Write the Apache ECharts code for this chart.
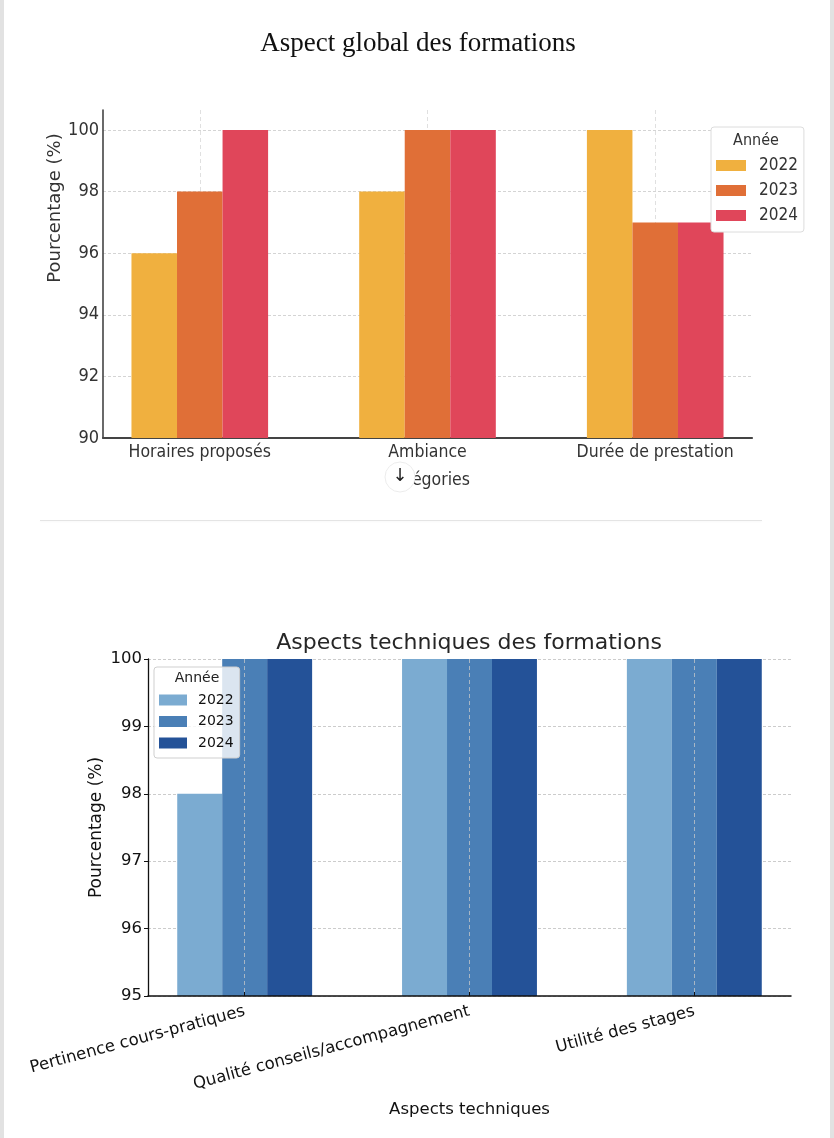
<!DOCTYPE html>
<html>
<head>
<meta charset="utf-8">
<script src="https://cdn.jsdelivr.net/npm/echarts@6/dist/echarts.min.js"></script>
<style>
html,body{margin:0;padding:0;background:#fff;width:834px;height:1138px;overflow:hidden;}
#page{position:relative;width:834px;height:1138px;background:#fff;}
#c1{position:absolute;left:0;top:0;width:834px;height:540px;}
#c2{position:absolute;left:0;top:540px;width:834px;height:598px;}
.edgeL{position:absolute;left:0;top:0;width:4px;height:1138px;background:#e2e2e2;}
.edgeR{position:absolute;right:0;top:0;width:4px;height:1138px;background:#e2e2e2;}
.sep{position:absolute;left:40px;top:520px;width:722px;height:1px;background:#e4e4e4;box-shadow:0 1px 2px rgba(0,0,0,0.04);}
</style>
</head>
<body>
<div id="page">
  <div id="c1"></div>
  <div id="c2"></div>
  <div class="sep"></div>
  <div class="edgeL"></div>
  <div class="edgeR"></div>
</div>
<script>
// ---------- Data ----------
const years = ['2022', '2023', '2024'];

const categories1 = ['Horaires proposés', 'Ambiance', 'Durée de prestation'];
const global2022 = [96, 98, 100];
const global2023 = [98, 100, 97];
const global2024 = [100, 100, 97];
const yTicks1 = [90, 92, 94, 96, 98, 100];

const categories2 = ['Pertinence cours-pratiques', 'Qualité conseils/accompagnement', 'Utilité des stages'];
const tech2022 = [98, 100, 100];
const tech2023 = [100, 100, 100];
const tech2024 = [100, 100, 100];
const yTicks2 = [95, 96, 97, 98, 99, 100];

const colors1 = ['#F0B03F', '#E06F37', '#E0465A'];
const colors2 = ['#7BABD1', '#4A7FB6', '#245298'];

const catIndex1 = categories1.map((c, i) => i);
const catIndex2 = categories2.map((c, i) => i);

function buildSeries(valuesList, colors) {
  return years.map((y, k) => ({
    name: y,
    type: 'bar',
    barWidth: '20%',
    barGap: '0%',
    itemStyle: { color: colors[k] },
    data: valuesList[k].map((v, i) => [i, v])
  }));
}

const COND = '"DejaVu Sans Condensed", "DejaVu Sans", sans-serif';
const SANS = '"DejaVu Sans", sans-serif';

// ---------- Chart 1 ----------
const chart1 = echarts.init(document.getElementById('c1'), null, { renderer: 'canvas' });
chart1.setOption({
  animation: false,
  title: {
    text: 'Aspect global des formations',
    left: 418, top: 30, textAlign: 'center', padding: 0,
    textStyle: { fontFamily: '"Liberation Serif", serif', fontSize: 27, fontWeight: 'normal', color: '#111' }
  },
  grid: { left: 103, top: 110, width: 649, height: 328, containLabel: false },
  xAxis: {
    type: 'value', min: -0.425, max: 2.425,
    name: 'Catégories', nameLocation: 'middle', nameGap: 33, nameMoveOverlap: false,
    nameTextStyle: { fontFamily: COND, fontSize: 17.5, color: '#333' },
    axisLine: { show: true, onZero: false, lineStyle: { color: '#444', width: 2.2 } },
    axisTick: { show: true, inside: true, length: 5, customValues: catIndex1, lineStyle: { color: '#444', width: 1.2 } },
    axisLabel: { customValues: catIndex1, margin: 5, fontFamily: COND, fontSize: 17.5, color: '#333',
      formatter: v => categories1[Math.round(v)] },
    splitLine: { show: true, lineStyle: { color: '#e0e0e0', type: [4, 3], width: 1 } }
  },
  yAxis: {
    type: 'value', min: 90, max: 100.65,
    axisLine: { show: true, onZero: false, lineStyle: { color: '#444', width: 1.6 } },
    axisTick: { show: false, customValues: yTicks1 },
    axisLabel: { customValues: yTicks1, margin: 4, fontFamily: COND, fontSize: 18, color: '#333' },
    splitLine: { show: true, lineStyle: { color: '#d4d4d4', type: [3, 2], width: 1 } }
  },
  legend: {
    data: years, orient: 'vertical', left: 711, top: 127,
    icon: 'rect', itemWidth: 30, itemHeight: 11, itemGap: 8,
    padding: [30, 6, 8, 5],
    backgroundColor: '#fff', borderColor: '#dcdcdc', borderWidth: 1, borderRadius: 3,
    textStyle: { fontFamily: COND, fontSize: 17, lineHeight: 16, color: '#333', padding: [0, 0, 0, 8] }
  },
  graphic: [
    { type: 'text', x: 756, y: 141, z: 100,
      style: { text: 'Année', font: '16px ' + COND, fill: '#333', align: 'center', verticalAlign: 'middle' } },
    { type: 'text', x: 55, y: 208, rotation: Math.PI / 2, z: 100,
      style: { text: 'Pourcentage (%)', font: '18px ' + SANS, fill: '#333', align: 'center', verticalAlign: 'middle' } },
    { type: 'circle', shape: { cx: 400, cy: 477, r: 15 }, z: 100,
      style: { fill: '#fff', stroke: '#ececec', lineWidth: 1 } },
    { type: 'text', x: 400, y: 476, z: 101,
      style: { text: '↓', font: '18px ' + SANS, fill: '#222', align: 'center', verticalAlign: 'middle' } }
  ],
  series: buildSeries([global2022, global2023, global2024], colors1)
});

// ---------- Chart 2 ----------
const chart2 = echarts.init(document.getElementById('c2'), null, { renderer: 'canvas' });
chart2.setOption({
  animation: false,
  title: {
    text: 'Aspects techniques des formations',
    left: 469, top: 92, textAlign: 'center', padding: 0,
    textStyle: { fontFamily: SANS, fontSize: 22, fontWeight: 'normal', color: '#262626' }
  },
  grid: { left: 148, top: 119, width: 643, height: 337, containLabel: false },
  xAxis: {
    type: 'value', min: -0.43, max: 2.43, z: 3,
    name: 'Aspects techniques', nameLocation: 'middle', nameGap: 105, nameMoveOverlap: false,
    nameTextStyle: { fontFamily: SANS, fontSize: 16.5, color: '#111' },
    axisLine: { show: true, onZero: false, lineStyle: { color: '#111', width: 1.5 } },
    axisTick: { show: true, inside: true, length: 4, customValues: catIndex2, lineStyle: { color: '#111', width: 1 } },
    axisLabel: { customValues: catIndex2, rotate: 15, margin: 15, fontFamily: SANS, fontSize: 16.5, color: '#111',
      formatter: v => categories2[Math.round(v)] },
    splitLine: { show: true, lineStyle: { color: 'rgba(200,200,200,0.75)', type: [4, 3], width: 1 } }
  },
  yAxis: {
    type: 'value', min: 95, max: 100, interval: 1,
    name: 'Pourcentage (%)', nameLocation: 'middle', nameGap: 43, nameMoveOverlap: false,
    nameTextStyle: { fontFamily: SANS, fontSize: 17, color: '#111' },
    axisLine: { show: true, onZero: false, lineStyle: { color: '#111', width: 1.3 } },
    axisTick: { show: true, inside: false, length: 4, customValues: yTicks2, lineStyle: { color: '#111', width: 1 } },
    axisLabel: { customValues: yTicks2, margin: 6, fontFamily: SANS, fontSize: 16.5, color: '#111' },
    splitLine: { show: true, lineStyle: { color: '#cccccc', type: [3, 2], width: 1 } }
  },
  legend: {
    data: years, orient: 'vertical', left: 154, top: 127,
    icon: 'rect', itemWidth: 28, itemHeight: 11, itemGap: 7.5,
    padding: [26, 6, 8, 5],
    backgroundColor: 'rgba(255,255,255,0.8)', borderColor: '#cfcfcf', borderWidth: 1, borderRadius: 3,
    textStyle: { fontFamily: SANS, fontSize: 14, lineHeight: 14, color: '#111', padding: [0, 0, 0, 6] }
  },
  graphic: [
    { type: 'text', x: 197, y: 138, z: 100,
      style: { text: 'Année', font: '14px ' + SANS, fill: '#222', align: 'center', verticalAlign: 'middle' } }
  ],
  series: buildSeries([tech2022, tech2023, tech2024], colors2)
});
</script>
</body>
</html>
